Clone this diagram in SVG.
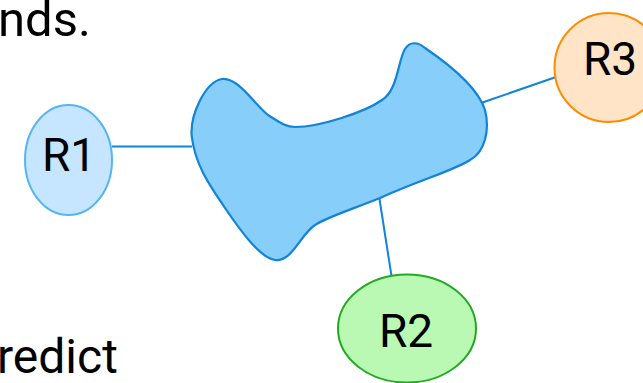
<svg xmlns="http://www.w3.org/2000/svg" width="643" height="383" viewBox="0 0 643 383">
  <style>
    .txt { font-family: Roboto, "Liberation Sans", sans-serif; fill: #000; }
    .lbl { font-size: 46px; text-anchor: middle; }
    .edge { stroke: #1183d8; stroke-width: 2; fill: none; }
  </style>
  <rect width="643" height="383" fill="#ffffff"/>

  <!-- surrounding prose fragments -->
  <text class="txt" x="-2" y="36" font-size="49">nds.</text>
  <text class="txt" x="-3" y="373" font-size="48">redict</text>

  <!-- connectors -->
  <g id="connectors">
    <line class="edge" x1="112" y1="146.5" x2="192" y2="146.5"/>
    <line class="edge" x1="379.5" y1="199" x2="391.5" y2="276"/>
    <line class="edge" x1="481" y1="103" x2="556" y2="77"/>
  </g>

  <!-- central protein blob -->
  <g id="protein">
    <path d="M 191.7,136 C 190,115 205,82 222,79 C 238,77 255,105 268,115 C 278,121 285,127 295,127 C 320,127 365,112 382,100 C 398,90 398,60 405,49 C 410,41 418,42 425,48 C 450,65 478,88 485,110 C 490,130 485,152 470,160 C 455,170 420,180 380,198 C 350,210 325,218 315,225 C 300,235 292,262 275,260 C 260,258 240,230 225,208 C 210,186 195,165 191.7,136 Z" fill="#87cefa" stroke="#1183d8" stroke-width="2.2"/>
  </g>

  <g id="R1">
    <ellipse cx="68.5" cy="160" rx="43.5" ry="55" fill="#c6e6ff" stroke="#55b4f5" stroke-width="2"/>
    <text class="txt lbl" x="69" y="171">R1</text>
  </g>

  <g id="R2">
    <ellipse cx="407" cy="328.5" rx="69" ry="54" fill="#b9f9b3" stroke="#22aa22" stroke-width="2"/>
    <text class="txt lbl" x="406" y="347">R2</text>
  </g>

  <g id="R3">
    <circle cx="609" cy="67.5" r="54.5" fill="#ffe4c8" stroke="#ff8c00" stroke-width="2"/>
    <text class="txt lbl" x="610" y="75">R3</text>
  </g>
</svg>
